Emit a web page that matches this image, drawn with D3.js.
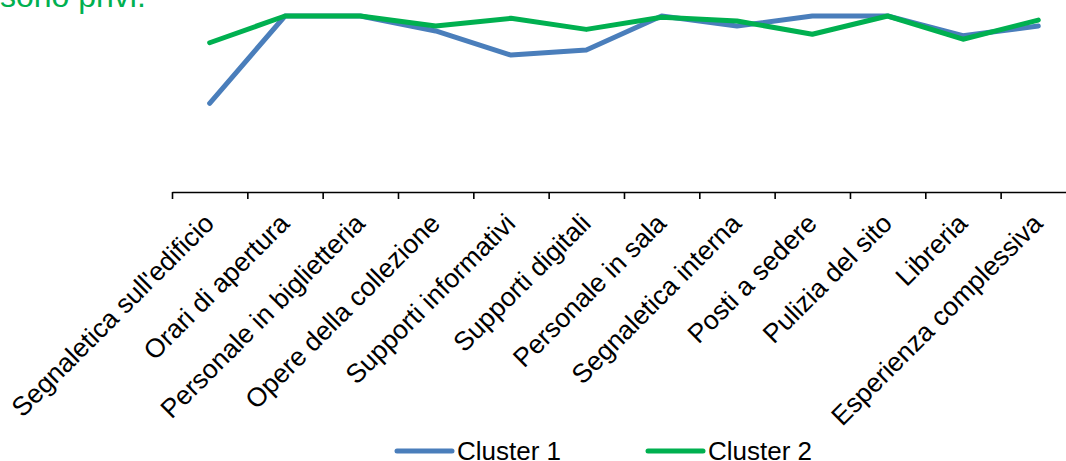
<!DOCTYPE html>
<html>
<head>
<meta charset="utf-8">
<script src="https://cdn.jsdelivr.net/npm/d3@7"></script>
<style>
  html, body { margin: 0; padding: 0; background: #fff; overflow: hidden; }
  text { font-family: "Liberation Sans", Arial, sans-serif; }
</style>
</head>
<body>
<div id="chart"></div>
<script>
// categorie sull'asse x
var categories = ["Segnaletica sull'edificio", "Orari di apertura", "Personale in biglietteria",
    "Opere della collezione", "Supporti informativi", "Supporti digitali", "Personale in sala",
    "Segnaletica interna", "Posti a sedere", "Pulizia del sito", "Libreria", "Esperienza complessiva"];
// valori (scala 0-100)
var cluster1 = [50.4, 100, 100, 91.5, 77.8, 80.7, 100, 94.3, 100, 100, 88.8, 94.3];
var cluster2 = [84.8, 100, 100, 94.3, 98.7, 92.4, 99.3, 97.2, 89.6, 100, 86.8, 97.7];
var seriesNames = ["Cluster 1", "Cluster 2"];
var seriesColors = ["#4a7ebb", "#00b050"];
var headText = "sono privi.";

var W = 1066, H = 461,
    left = 172, bandW = 75.33,
    axisY = 192, topY = 16;

var svg = d3.select("#chart").append("svg").attr("width", W).attr("height", H);

// testo tagliato in alto a sinistra
svg.append("text").attr("x", 0).attr("y", 7)
    .attr("font-size", 32).attr("fill", "#00b050").text(headText);

var x = d3.scaleBand().domain(categories).range([left, left + bandW * categories.length]);
var xEdge = d3.scaleLinear().domain([0, categories.length]).range(x.range());
var y = d3.scaleLinear().domain([0, 100]).range([axisY, topY]);

// asse x con tacche ai bordi delle categorie
var axis = svg.append("g").attr("transform", "translate(0," + axisY + ")")
    .call(d3.axisBottom(xEdge).tickValues(d3.range(categories.length + 1))
        .tickSize(7).tickSizeOuter(0).tickFormat(""));
axis.select(".domain").attr("stroke", "#000").attr("stroke-width", 1.6);
axis.selectAll(".tick line").attr("stroke", "#000").attr("stroke-width", 1.6);

// etichette ruotate
svg.append("g").selectAll("text").data(categories).enter().append("text")
    .attr("transform", function(d) {
        return "translate(" + (x(d) + x.bandwidth() / 2 + 6) + ",225) rotate(-45)";
    })
    .attr("text-anchor", "end").attr("font-size", 26.5).attr("fill", "#000")
    .text(function(d) { return d; });

var line = d3.line()
    .x(function(d, i) { return x(categories[i]) + x.bandwidth() / 2; })
    .y(function(d) { return y(d); });

[cluster1, cluster2].forEach(function(s, k) {
    svg.append("path").datum(s).attr("d", line)
        .attr("fill", "none").attr("stroke", seriesColors[k]).attr("stroke-width", 5)
        .attr("stroke-linecap", "round").attr("stroke-linejoin", "round");
});

// legenda
var legX = [397, 648];
seriesNames.forEach(function(n, k) {
    var g = svg.append("g");
    g.append("line").attr("x1", legX[k]).attr("x2", legX[k] + 55)
        .attr("y1", 451).attr("y2", 451)
        .attr("stroke", seriesColors[k]).attr("stroke-width", 5).attr("stroke-linecap", "round");
    g.append("text").attr("x", legX[k] + 60).attr("y", 460)
        .attr("font-size", 26).attr("fill", "#000").text(n);
});
</script>
</body>
</html>
